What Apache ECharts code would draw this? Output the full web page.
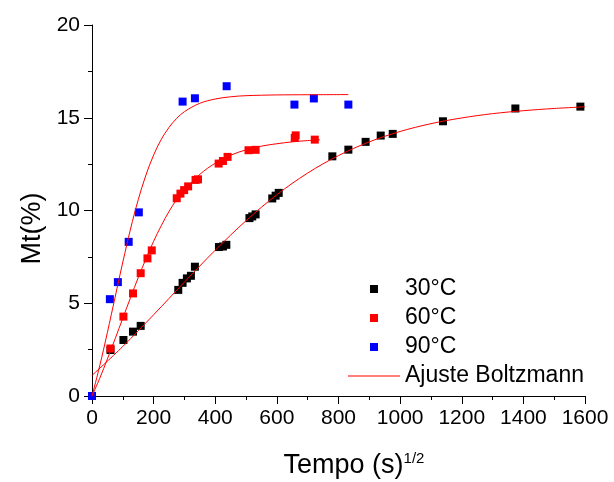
<!DOCTYPE html>
<html>
<head>
<meta charset="utf-8">
<script src="https://cdn.jsdelivr.net/npm/echarts@6/dist/echarts.min.js"></script>
<style>
  html, body { margin: 0; padding: 0; background: #ffffff; }
  #chart { width: 614px; height: 482px; }
</style>
</head>
<body>
<div id="chart"></div>
<script>
// Axis ticks
const xTicks = [0, 200, 400, 600, 800, 1000, 1200, 1400, 1600];
const yTicks = [0, 5, 10, 15, 20];

// Measured uptake, 30 °C
const t30x = [60, 102, 133, 158, 280, 294, 308, 321, 334, 412, 425, 436, 511, 520, 531, 585, 596, 606, 780, 832, 888, 937, 976, 1139, 1374, 1585];
const t30y = [2.48, 3.02, 3.47, 3.78, 5.72, 6.10, 6.34, 6.48, 6.97, 8.03, 8.06, 8.15, 9.59, 9.68, 9.79, 10.65, 10.80, 10.95, 12.92, 13.28, 13.70, 14.04, 14.13, 14.81, 15.50, 15.60];

// Measured uptake, 60 °C
const t60x = [60, 102, 133, 158, 180, 194, 275, 287, 299, 312, 336, 344, 411, 425, 440, 508, 531, 658, 661, 723];
const t60y = [2.56, 4.28, 5.53, 6.62, 7.42, 7.85, 10.66, 10.91, 11.10, 11.30, 11.65, 11.68, 12.53, 12.67, 12.89, 13.25, 13.27, 13.91, 14.05, 13.82];

// Measured uptake, 90 °C
const t90x = [0, 58, 84, 119, 152, 294, 334, 437, 657, 720, 832];
const t90y = [0, 5.22, 6.14, 8.31, 9.90, 15.87, 16.05, 16.70, 15.71, 16.04, 15.71];

// Boltzmann fit curves
const fit30x = [0, 100, 200, 300, 400, 500, 600, 700, 800, 900, 1000, 1100, 1200, 1300, 1400, 1500, 1600];
const fit30y = [1.11, 2.67, 4.38, 6.14, 7.86, 9.45, 10.85, 12.02, 12.96, 13.70, 14.26, 14.68, 14.99, 15.22, 15.38, 15.50, 15.59];
const fit60x = [0, 25, 50, 75, 100, 125, 150, 175, 200, 225, 250, 275, 300, 350, 400, 450, 500, 550, 600, 650, 700, 740];
const fit60y = [0, 0.95, 2.00, 3.08, 4.20, 5.30, 6.38, 7.39, 8.34, 9.19, 9.95, 10.60, 11.10, 11.95, 12.55, 12.98, 13.27, 13.47, 13.60, 13.70, 13.77, 13.81];
const fit90x = [0, 25, 50, 75, 100, 125, 150, 175, 200, 225, 250, 275, 300, 350, 400, 450, 500, 600, 700, 832];
const fit90y = [0, 1.62, 3.43, 5.33, 7.22, 9.00, 10.58, 11.91, 12.99, 13.84, 14.48, 14.97, 15.33, 15.78, 16.01, 16.13, 16.19, 16.23, 16.24, 16.25];

const FONT = 'Liberation Sans, Arial, sans-serif';
const FIT_NAME = 'Ajuste Boltzmann';
const SQUARE = 'path://M0,0L10,0L10,10L0,10Z';
const DASH = 'path://M0,0L52,0L52,1.2L0,1.2Z';

const pairs = (xs, ys) => xs.map((x, i) => [x, ys[i]]);

function scatter(name, xs, ys, color) {
  return {
    type: 'scatter', name: name, data: pairs(xs, ys),
    symbol: 'rect', symbolSize: 8,
    itemStyle: { color: color, opacity: 1 },
    emphasis: { disabled: true }
  };
}
function fit(xs, ys) {
  return {
    type: 'line', name: FIT_NAME, data: pairs(xs, ys),
    smooth: 0.35,
    symbol: 'none', showSymbol: false,
    lineStyle: { color: '#ff0000', width: 1 },
    itemStyle: { color: '#ff0000' },
    emphasis: { disabled: true }, z: 3
  };
}

const plainNumber = v => String(v);

const chart = echarts.init(document.getElementById('chart'), null, { renderer: 'canvas' });
chart.setOption({
  animation: false,
  backgroundColor: '#ffffff',
  grid: { left: 92, right: 29, top: 25, bottom: 86, outerBoundsMode: 'none' },
  legend: {
    orient: 'vertical', left: 343, top: 272,
    itemWidth: 52, itemHeight: 8, itemGap: 5,
    selectedMode: false,
    textStyle: { fontFamily: FONT, fontSize: 23, color: '#000', lineHeight: 24 },
    data: [
      { name: '30°C', icon: SQUARE },
      { name: '60°C', icon: SQUARE },
      { name: '90°C', icon: SQUARE },
      { name: FIT_NAME, icon: DASH }
    ]
  },
  xAxis: {
    type: 'value', min: xTicks[0], max: xTicks[xTicks.length - 1], interval: xTicks[1] - xTicks[0],
    axisLine: { show: true, onZero: false, lineStyle: { color: '#000', width: 1 } },
    axisTick: { show: true, inside: false, length: 8, lineStyle: { color: '#000' } },
    minorTick: { show: true, splitNumber: 2, length: 4, lineStyle: { color: '#000' } },
    splitLine: { show: false },
    axisLabel: { fontFamily: FONT, fontSize: 21, color: '#000', margin: 12, formatter: plainNumber },
    name: '{a|Tempo (s)}{b|1/2}',
    nameLocation: 'middle', nameGap: 55,
    nameTextStyle: {
      padding: [0, 0, 0, 31],
      rich: {
        a: { fontFamily: FONT, fontSize: 27, color: '#000' },
        b: { fontFamily: FONT, fontSize: 15, color: '#000', padding: [0, 0, 15, 0] }
      }
    }
  },
  yAxis: {
    type: 'value', min: yTicks[0], max: yTicks[yTicks.length - 1], interval: yTicks[1] - yTicks[0],
    axisLine: { show: true, onZero: false, lineStyle: { color: '#000', width: 1 } },
    axisTick: { show: true, inside: false, length: 8, lineStyle: { color: '#000' } },
    minorTick: { show: true, splitNumber: 2, length: 4, lineStyle: { color: '#000' } },
    splitLine: { show: false },
    axisLabel: { fontFamily: FONT, fontSize: 21, color: '#000', margin: 12, formatter: plainNumber },
    name: 'Mt(%)', nameLocation: 'middle', nameGap: 40, nameRotate: 90,
    nameTextStyle: { fontFamily: FONT, fontSize: 27, color: '#000', padding: [0, 36, 0, 0] }
  },
  series: [
    scatter('30°C', t30x, t30y, '#000000'),
    scatter('60°C', t60x, t60y, '#ff0000'),
    scatter('90°C', t90x, t90y, '#0000ff'),
    fit(fit30x, fit30y),
    fit(fit60x, fit60y),
    fit(fit90x, fit90y)
  ]
});
</script>
</body>
</html>
